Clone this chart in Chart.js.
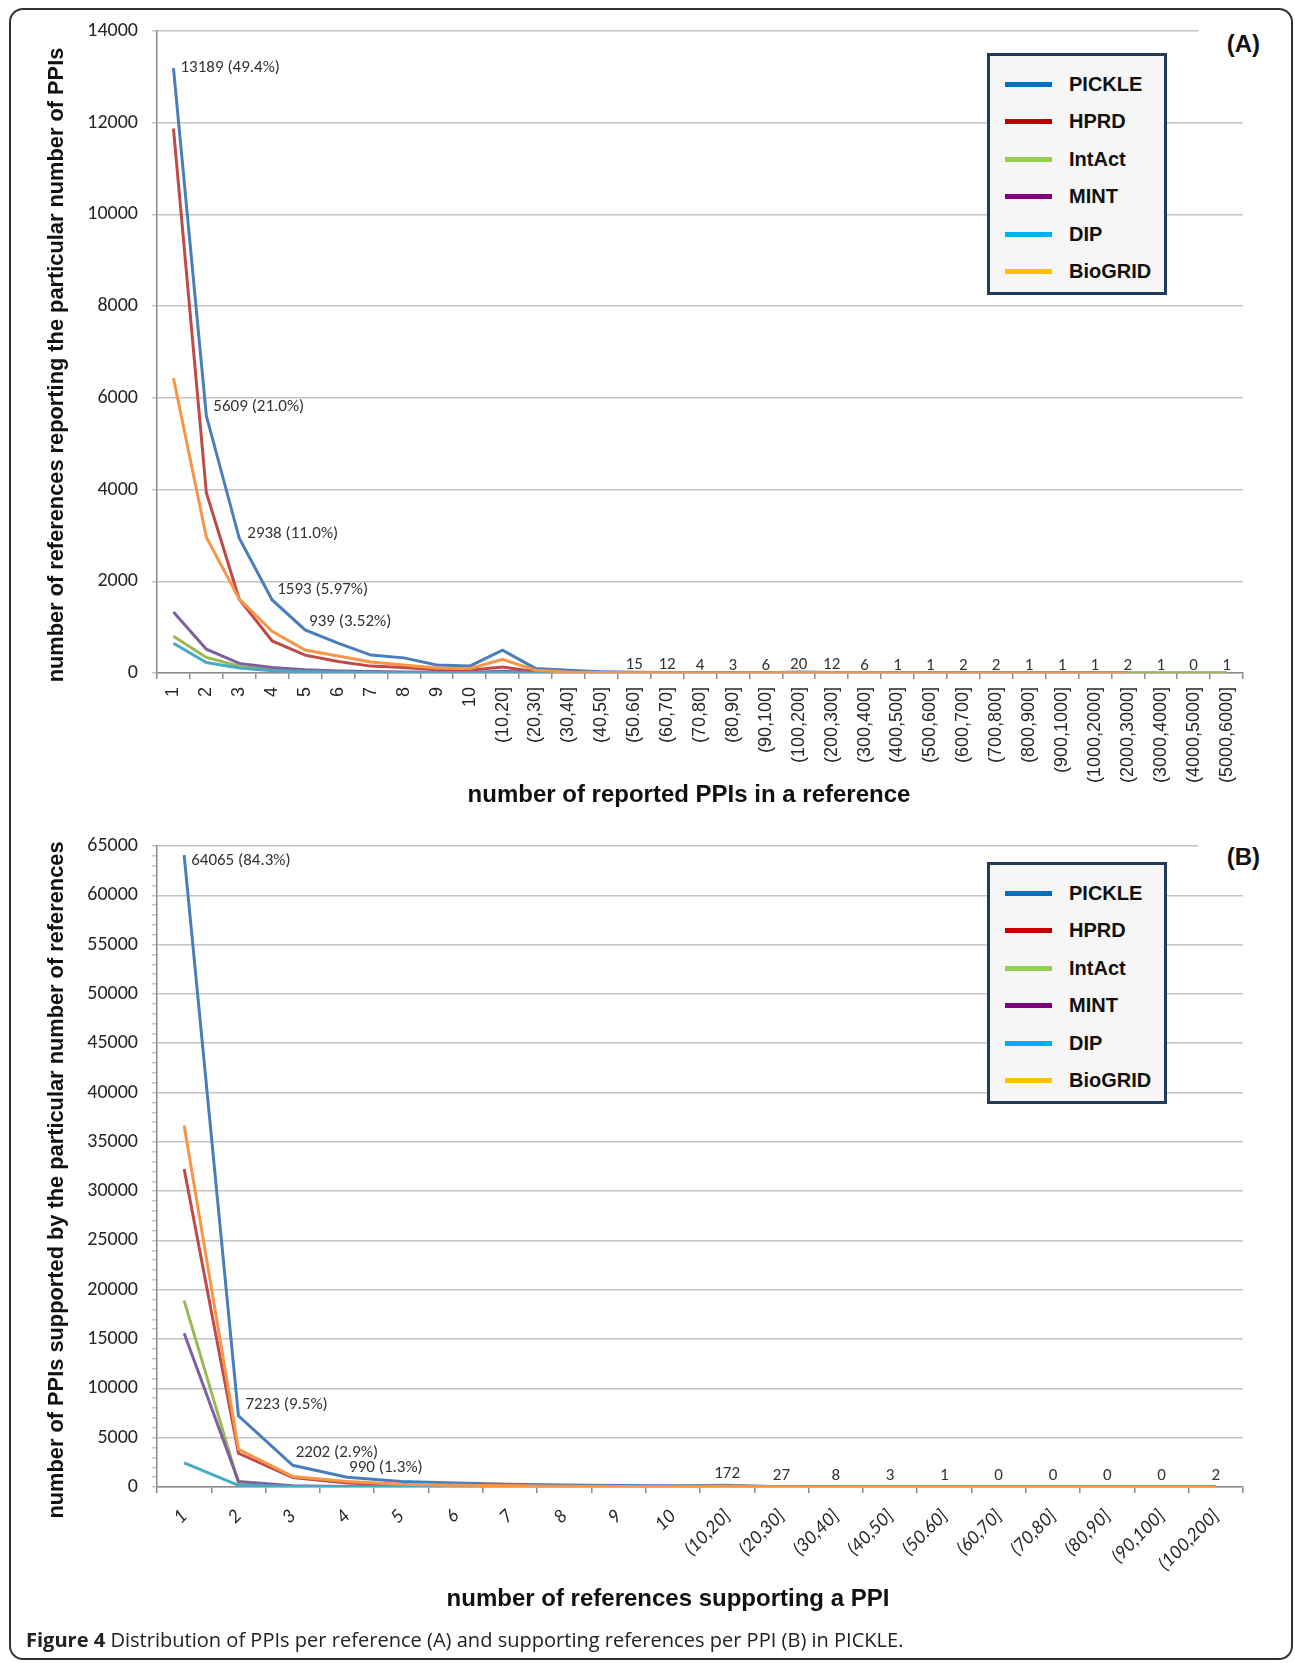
<!DOCTYPE html>
<html>
<head>
<meta charset="utf-8">
<script src="https://cdn.jsdelivr.net/npm/chart.js@4.4.1/dist/chart.umd.min.js"></script>
<style>
  html, body { margin: 0; padding: 0; background: #fff; }
  body { width: 1295px; height: 1663px; position: relative; overflow: hidden; font-family: "Liberation Sans", Arial, sans-serif; }
  #frame { position: absolute; left: 9px; top: 8px; width: 1284px; height: 1652px; box-sizing: border-box; border: 2px solid #333; border-radius: 14px; }
  canvas { position: absolute; left: 0; }
  .legend { position: absolute; left: 987px; width: 180px; height: 242px; box-sizing: border-box; border: 3.5px solid #243A5C; background: #F6F6F6; }
  .legend .row { position: absolute; left: 0; height: 30px; width: 170px; }
  .legend .sw { position: absolute; left: 15px; width: 47px; height: 5px; top: 13px; }
  .legend .tx { position: absolute; left: 79px; top: 2px; font: bold 20px "Liberation Sans", Arial, sans-serif; color: #111; line-height: 26px; }
  .panel { position: absolute; left: 1198px; width: 62px; height: 32px; background: #fff; text-align: right; font: bold 24px "Liberation Sans", Arial, sans-serif; line-height: 32px; color: #111; }
  .ytitle { position: absolute; width: 800px; height: 30px; line-height: 30px; text-align: center; white-space: nowrap; font: bold 21.8px "Liberation Sans", Arial, sans-serif; color: #111; transform: rotate(-90deg); }
  .xtitle { position: absolute; width: 800px; height: 30px; line-height: 30px; text-align: center; white-space: nowrap; font: bold 24px "Liberation Sans", Arial, sans-serif; color: #111; }
  #caption { position: absolute; left: 26px; top: 1628px; white-space: nowrap; font-family: "Open Sans", sans-serif; font-size: 17px; color: #222; line-height: 24px; }
</style>
</head>
<body>
<div id="frame"></div>
<canvas id="cA" width="1295" height="815" style="top:0px"></canvas>
<canvas id="cB" width="1295" height="815" style="top:815px"></canvas>
<!-- axis titles: centred at (58, 364.5) / (58, 1179.5) and (689, 795) / (668, 1599) -->
<div class="ytitle" style="left:-342px; top:349.5px">number of references reporting the particular number of PPIs</div>
<div class="ytitle" style="left:-342px; top:1164.5px">number of PPIs supported by the particular number of references</div>
<div class="xtitle" style="left:289px; top:780px">number of reported PPIs in a reference</div>
<div class="xtitle" style="left:268px; top:1584px">number of references supporting a PPI</div>
<div class="legend" id="legA" style="top:53px"></div>
<div class="legend" id="legB" style="top:862px"></div>
<div class="panel" style="top:28px">(A)</div>
<div class="panel" style="top:841px">(B)</div>
<div id="caption"><b>Figure 4</b> Distribution of PPIs per reference (A) and supporting references per PPI (B) in PICKLE.</div>
<script>
// ---------------- data ----------------
const seriesNames = ['PICKLE', 'HPRD', 'IntAct', 'MINT', 'DIP', 'BioGRID'];

const categoriesA = ['1','2','3','4','5','6','7','8','9','10','(10,20]','(20,30]','(30,40]','(40,50]','(50.60]','(60,70]','(70,80]','(80,90]','(90,100]','(100,200]','(200,300]','(300,400]','(400,500]','(500,600]','(600,700]','(700,800]','(800,900]','(900,1000]','(1000,2000]','(2000,3000]','(3000,4000]','(4000,5000]','(5000,6000]'];
const pickleA  = [13189, 5609, 2938, 1593, 939, 650, 390, 330, 175, 150, 500, 100, 60, 30, 15, 12, 4, 3, 6, 20, 12, 6, 1, 1, 2, 2, 1, 1, 1, 2, 1, 0, 1];
const hprdA    = [11870, 3930, 1610, 700, 390, 250, 150, 120, 70, 60, 130, 25, 10, 5, 3, 2, 1, 1, 1, 4, 2, 1, 0, 0, 0, 0, 0, 0, 0, 0, null, null, null];
const intactA  = [800, 340, 150, 70, 40, 25, 15, 10, 8, 6, 20, 5, 2, 1, 1, 1, 0, 0, 0, 1, 1, 0, 0, 0, 0, 0, 0, 0, 0, 1, 1, 0, 1];
const mintA    = [1330, 520, 210, 120, 70, 45, 30, 20, 15, 12, 40, 8, 3, 2, 1, 1, 0, 0, 0, 1, 0, 0, 0, 0, 0, 0, 0, 0, 0, 0, null, null, null];
const dipA     = [650, 230, 110, 50, 30, 15, 10, 6, 4, 3, 10, 2, 1, 0, 0, 0, 0, 0, 0, 0, 0, 0, 0, 0, 0, 0, 0, 0, 0, 0, null, null, null];
const biogridA = [6430, 2960, 1610, 910, 500, 370, 240, 175, 110, 95, 300, 60, 20, 10, 8, 6, 2, 2, 3, 12, 8, 4, 1, 1, 1, 1, 1, 1, 1, 1, null, null, null];
const pctA = ['49.4%', '21.0%', '11.0%', '5.97%', '3.52%'];
const tailLabelFromA = 14;
const yTicksA = { min: 0, max: 14000, step: 2000 };

const categoriesB = ['1','2','3','4','5','6','7','8','9','10','(10,20]','(20,30]','(30,40]','(40,50]','(50.60]','(60,70]','(70,80]','(80,90]','(90,100]','(100,200]'];
const pickleB  = [64065, 7223, 2202, 990, 560, 400, 290, 200, 140, 120, 172, 27, 8, 3, 1, 0, 0, 0, 0, 2];
const hprdB    = [32250, 3420, 970, 400, 200, 120, 80, 50, 35, 25, 60, 10, 3, 1, 0, 0, 0, 0, 0, 1];
const intactB  = [18900, 400, 80, 30, 15, 10, 5, 3, 2, 2, 5, 1, 0, 0, 0, 0, 0, 0, 0, 0];
const mintB    = [15600, 570, 120, 40, 20, 10, 5, 3, 2, 2, 5, 1, 0, 0, 0, 0, 0, 0, 0, 0];
const dipB     = [2450, 170, 40, 15, 5, 3, 2, 1, 1, 1, 2, 0, 0, 0, 0, 0, 0, 0, 0, 0];
const biogridB = [36650, 3830, 1070, 570, 280, 180, 120, 80, 50, 40, 100, 15, 5, 2, 1, 0, 0, 0, 0, 1];
const pctB = ['84.3%', '9.5%', '2.9%', '1.3%'];
const tailLabelFromB = 10;
const yTicksB = { min: 0, max: 65000, step: 1000, major: 5000 };

// ---------------- styles ----------------
const lineColors   = ['#4A7EBB', '#BE4B48', '#98B954', '#7D60A0', '#46AAC5', '#F79646'];
const legendColors = ['#0070C0', '#C00000', '#92D050', '#800080', '#00B0F0', '#FFC000'];
const gridColor = '#C4C4C4';
const axisColor = '#8C8C8C';
const calibriLike = 'Carlito, "Open Sans", sans-serif';

function buildLegend(id) {
  const el = document.getElementById(id);
  seriesNames.forEach((n, i) => {
    const r = document.createElement('div');
    r.className = 'row';
    r.style.top = (13 + i * 37.4) + 'px';
    r.innerHTML = '<div class="sw" style="background:' + legendColors[i] + '"></div><div class="tx">' + n + '</div>';
    el.appendChild(r);
  });
}
buildLegend('legA');
buildLegend('legB');

(function () {
  const c = document.getElementById('caption');
  const w = c.getBoundingClientRect().width;
  c.style.fontSize = (17 * 878 / w).toFixed(2) + 'px';
})();

// data labels for the PICKLE series
const pickleLabels = {
  id: 'pickleLabels',
  afterDatasetsDraw(chart, args, opts) {
    const meta = chart.getDatasetMeta(0);
    const data = chart.data.datasets[0].data;
    const ctx = chart.ctx;
    ctx.save();
    ctx.font = opts.font;
    ctx.fillStyle = opts.color;
    opts.pct.forEach((p, i) => {
      const pt = meta.data[i];
      const off = opts.headOffsets[i];
      ctx.textAlign = 'left';
      ctx.textBaseline = 'middle';
      ctx.fillText(data[i] + ' (' + p + ')', pt.x + off[0], pt.y + off[1]);
    });
    for (let i = opts.tailFrom; i < data.length; i++) {
      const pt = meta.data[i];
      ctx.textAlign = 'center';
      ctx.textBaseline = 'alphabetic';
      ctx.fillText(String(data[i]), pt.x, pt.y - opts.tailLift);
    }
    ctx.restore();
  }
};

function makeDatasets(arrs) {
  return arrs.map((d, i) => ({
    label: seriesNames[i], data: d,
    borderColor: lineColors[i], backgroundColor: lineColors[i],
    borderWidth: 3, pointRadius: 0, tension: 0, fill: false,
    order: arrs.length - i
  }));
}

function makeChart(canvasId, cats, arrs, cfg) {
  return new Chart(document.getElementById(canvasId), {
    type: 'line',
    data: { labels: cats, datasets: makeDatasets(arrs) },
    plugins: [pickleLabels],
    options: {
      responsive: false, animation: false, devicePixelRatio: 1,
      layout: { padding: cfg.padding },
      plugins: { legend: { display: false }, tooltip: { enabled: false }, pickleLabels: cfg.labels },
      scales: {
        x: {
          type: 'category', offset: true,
          grid: { display: true, drawOnChartArea: false, drawTicks: true, tickLength: 6, offset: true, color: axisColor, lineWidth: 1.5 },
          border: { display: true, color: axisColor, width: 1.5 },
          ticks: { autoSkip: false, minRotation: cfg.xRotation, maxRotation: cfg.xRotation, padding: cfg.xTickPadding, color: '#262626', font: cfg.xTickFont },
          afterFit(scale) { scale.height = cfg.xHeight; }
        },
        y: {
          type: 'linear', min: cfg.y.min, max: cfg.y.max,
          ticks: {
            stepSize: cfg.y.step, autoSkip: false, padding: 14, color: '#262626',
            font: { family: calibriLike, size: 20 },
            callback: (v) => (cfg.y.major ? (v % cfg.y.major === 0 ? String(v) : '') : String(v))
          },
          grid: {
            drawTicks: true, tickLength: 5, lineWidth: 1.5,
            color: (c) => (cfg.y.major && c.tick && c.tick.value % cfg.y.major !== 0) ? 'rgba(0,0,0,0)' : gridColor,
            tickColor: gridColor
          },
          border: { display: true, color: axisColor, width: 1.5 },
          afterFit(scale) { scale.width = 119; }
        }
      }
    }
  });
}

makeChart('cA', categoriesA, [pickleA, hprdA, intactA, mintA, dipA, biogridA], {
  padding: { left: 38, top: 31, right: 52, bottom: 2 },
  xHeight: 140, xRotation: 90, xTickPadding: 8,
  xTickFont: { family: '"Liberation Sans", Arial, sans-serif', size: 18 },
  y: yTicksA,
  labels: { font: '17px ' + calibriLike, color: '#333', pct: pctA,
    headOffsets: [[7, 0], [7, -9], [8, -5], [5, -10], [4, -8]], tailFrom: tailLabelFromA, tailLift: 3 }
});

makeChart('cB', categoriesB, [pickleB, hprdB, intactB, mintB, dipB, biogridB], {
  padding: { left: 38, top: 31, right: 52, bottom: 13 },
  xHeight: 130, xRotation: 45, xTickPadding: 12,
  xTickFont: { family: 'Lato, sans-serif', size: 18, style: 'italic' },
  y: yTicksB,
  labels: { font: '17px ' + calibriLike, color: '#333', pct: pctB,
    headOffsets: [[7, 6], [7, -11], [3, -13], [2, -9]], tailFrom: tailLabelFromB, tailLift: 7 }
});
</script>
</body>
</html>
